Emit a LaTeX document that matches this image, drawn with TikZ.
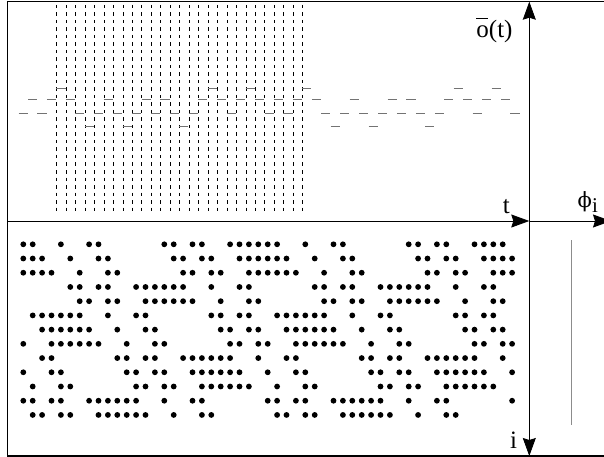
\documentclass[tikz,border=0pt]{standalone}
\usepackage{fontspec}
\setmainfont{Liberation Serif}
\newfontfamily\greekfont{DejaVu Serif}
\usetikzlibrary{arrows.meta}

\begin{document}
\begin{tikzpicture}[
    x=1pt, y=-1pt,
    frameline/.style={draw=black, line width=1.1pt},
    axisline/.style={draw=black, line width=0.8pt,
      -{Stealth[length=18pt, width=13pt, inset=2pt]}},
    timegrid/.style={draw=black, line width=0.7pt, dash pattern=on 3.5pt off 4pt},
    levelseg/.style={draw=black!55, line width=1.1pt},
    cell/.style={fill=black},
    axislbl/.style={font=\fontsize{25}{30}\selectfont, inner sep=0pt, anchor=base},
    sidebar/.style={draw=black!45, line width=0.9pt}
  ]
  \useasboundingbox (0,0) rectangle (604,457);
  \def\tx{56.7}
  \def\tdx{9.46}
  \def\bx{23.3}
  \def\bdx{9.4}
  \def\by{244.3}
  \def\bdy{14.22}
  \def\levels{{4,3,2,1,2,3,2,1,2,3,2,3,2,1,2,3,4,3,2,3,4,3,2,3,2,3}}
  \def\levy{{0,126.7,113.7,99.8,88.5}}
  \draw[frameline] (604,1.7) -| (7.3,456) -- (604,456);
  \coordinate (origin) at (529.3,221);
  \coordinate (west) at (7.3,221);
  \coordinate (east) at (611,221);
  \coordinate (north) at (529.3,1.7);
  \coordinate (south) at (529.3,456);
  \draw[axisline] (west) -- (origin);
  \draw[axisline] (origin) -- (east);
  \draw[axisline] (origin) -- (north);
  \draw[axisline] (origin) -- (south);
  \foreach \k in {0,...,26} {
    \draw[timegrid] ({\tx+\tdx*\k},5) -- ({\tx+\tdx*\k},212);
  }
  \foreach \k in {-4,...,48} {
    \pgfmathtruncatemacro\m{mod(\k+26,26)}
    \pgfmathtruncatemacro\lev{\levels[\m]}
    \pgfmathsetmacro\ly{\levy[\lev]}
    \draw[levelseg] ({\tx+\tdx*\k-0.3},\ly) -- ({\tx+\tdx*\k+8.8},\ly);
  }
  \foreach \r/\s in {1/0, 2/1, 3/2, 4/16, 5/17, 6/5, 7/6,
      8/7, 9/21, 10/22, 11/23, 12/11, 13/12} {
    \foreach \p in {0,1,4,7,8,15,16,18,19,22,23,24,25} {
      \foreach \m in {-26,0,26} {
        \pgfmathtruncatemacro\c{\p+\s+\m}
        \ifnum\c>-1 \ifnum\c<53
          \fill[cell] ({\bx+\bdx*\c},{\by+\bdy*(\r-1)}) circle (2.9pt);
        \fi\fi
      }
    }
  }
  \draw[sidebar] (571.7,240) -- (571.7,425);
  \node[axislbl] (olabel) at (494.5,37.3)
    {\makebox[0pt][l]{\rule[0.72em]{0.45em}{0.045em}}o(t)};
  \node[axislbl] (tlabel) at (506.3,213.3) {t};
  \node[axislbl] (ilabel) at (513.5,448) {i};
  \node[axislbl, anchor=base west] (philabel) at (577.5,207)
    {{\greekfont\fontsize{21}{24}\selectfont ϕ}\raisebox{-0.2em}{\fontsize{21}{24}\selectfont i}};
\end{tikzpicture}
\end{document}
